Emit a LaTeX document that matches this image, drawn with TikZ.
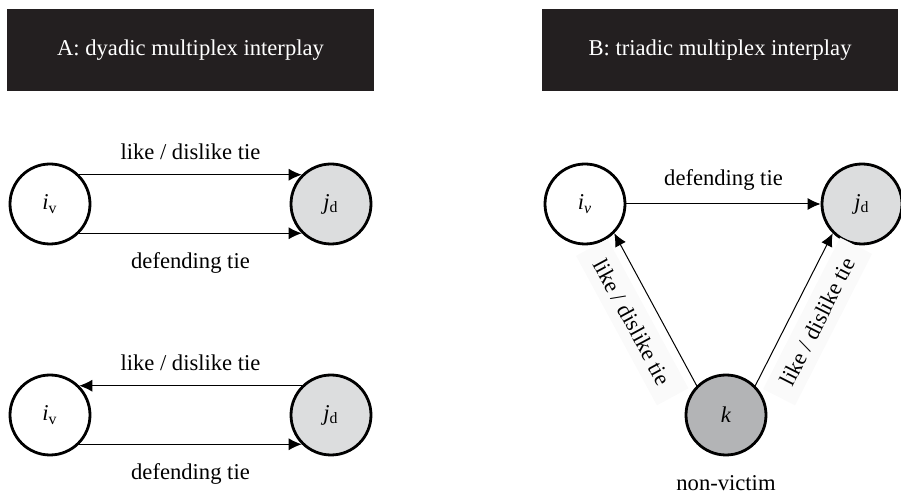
\documentclass[tikz,border=0pt]{standalone}
\usepackage{fontspec}
\setmainfont{Liberation Serif}
\usepackage{tikz}
\usetikzlibrary{arrows.meta, positioning}
\definecolor{headbg}{HTML}{231F20}
\definecolor{defgray}{HTML}{DCDDDE}
\definecolor{bystgray}{HTML}{B3B4B6}
\tikzstyle{header} = [rectangle, minimum height=41pt, text centered, fill=headbg, text=white]
\tikzstyle{victim} = [circle, minimum size=40pt, line width=1.4pt, draw=black, fill=white]
\tikzstyle{defender} = [victim, fill=defgray]
\tikzstyle{bystander} = [victim, fill=bystgray]
\tikzstyle{arrow} = [line width=0.5pt,->,>={Latex[length=6.5pt,width=6pt]}]
\tikzstyle{band} = [fill=black!2, minimum width=85pt, inner ysep=5pt]

\begin{document}
\begin{tikzpicture}[x=0.5pt, y=-0.5pt, node distance=140.5pt, every node/.style={font=\fontsize{11.3pt}{13pt}\selectfont}]
        \useasboundingbox (0,0) rectangle (901,497);
        \node (headA) [header, minimum width=183.5pt] at (190.5,50) {A: dyadic multiplex interplay};
        \node (headB) [header, minimum width=178pt] at (720,50) {B: triadic multiplex interplay};

        % dyadic: upper and lower pair
        \node (iv1) [victim] at (50,204) {\textit{i}\textsubscript{v}};
        \node (jd1) [defender, right of=iv1] {\textit{j}\textsubscript{d}};
        \node (iv2) [victim, below of=iv1, yshift=+35pt] {\textit{i}\textsubscript{v}};
        \node (jd2) [defender, right of=iv2] {\textit{j}\textsubscript{d}};

        % triadic
        \node (iv3) [victim] at (585,204) {\textit{i}\textsubscript{\textit{v}}};
        \node (jd3) [defender, right of=iv3, xshift=-2pt] {\textit{j}\textsubscript{d}};
        \node (k) [bystander, below of=iv3, xshift=+70.5pt, yshift=+35pt] {\textit{k}};
        \node (nonvic) [below=6pt of k] {non-victim};

        \draw [arrow] (iv1.45) -- node[above=4pt] {like / dislike tie} (jd1.135);
        \draw [arrow] (iv1.-45) -- node[below=6pt] {defending tie} (jd1.-135);
        \draw [arrow] (jd2.135) -- node[above=4pt] {like / dislike tie} (iv2.45);
        \draw [arrow] (iv2.-45) -- node[below=6pt] {defending tie} (jd2.-135);
        \draw [arrow] (iv3) -- node[above=3pt] {defending tie} (jd3);
        \draw [arrow] (k.north west) -- node[band, sloped, below=4pt] {like / dislike tie} (iv3.south east);
        \draw [arrow] (k.north east) -- node[band, sloped, below=4pt] {like / dislike tie} (jd3.south west);
\end{tikzpicture}
\end{document}
